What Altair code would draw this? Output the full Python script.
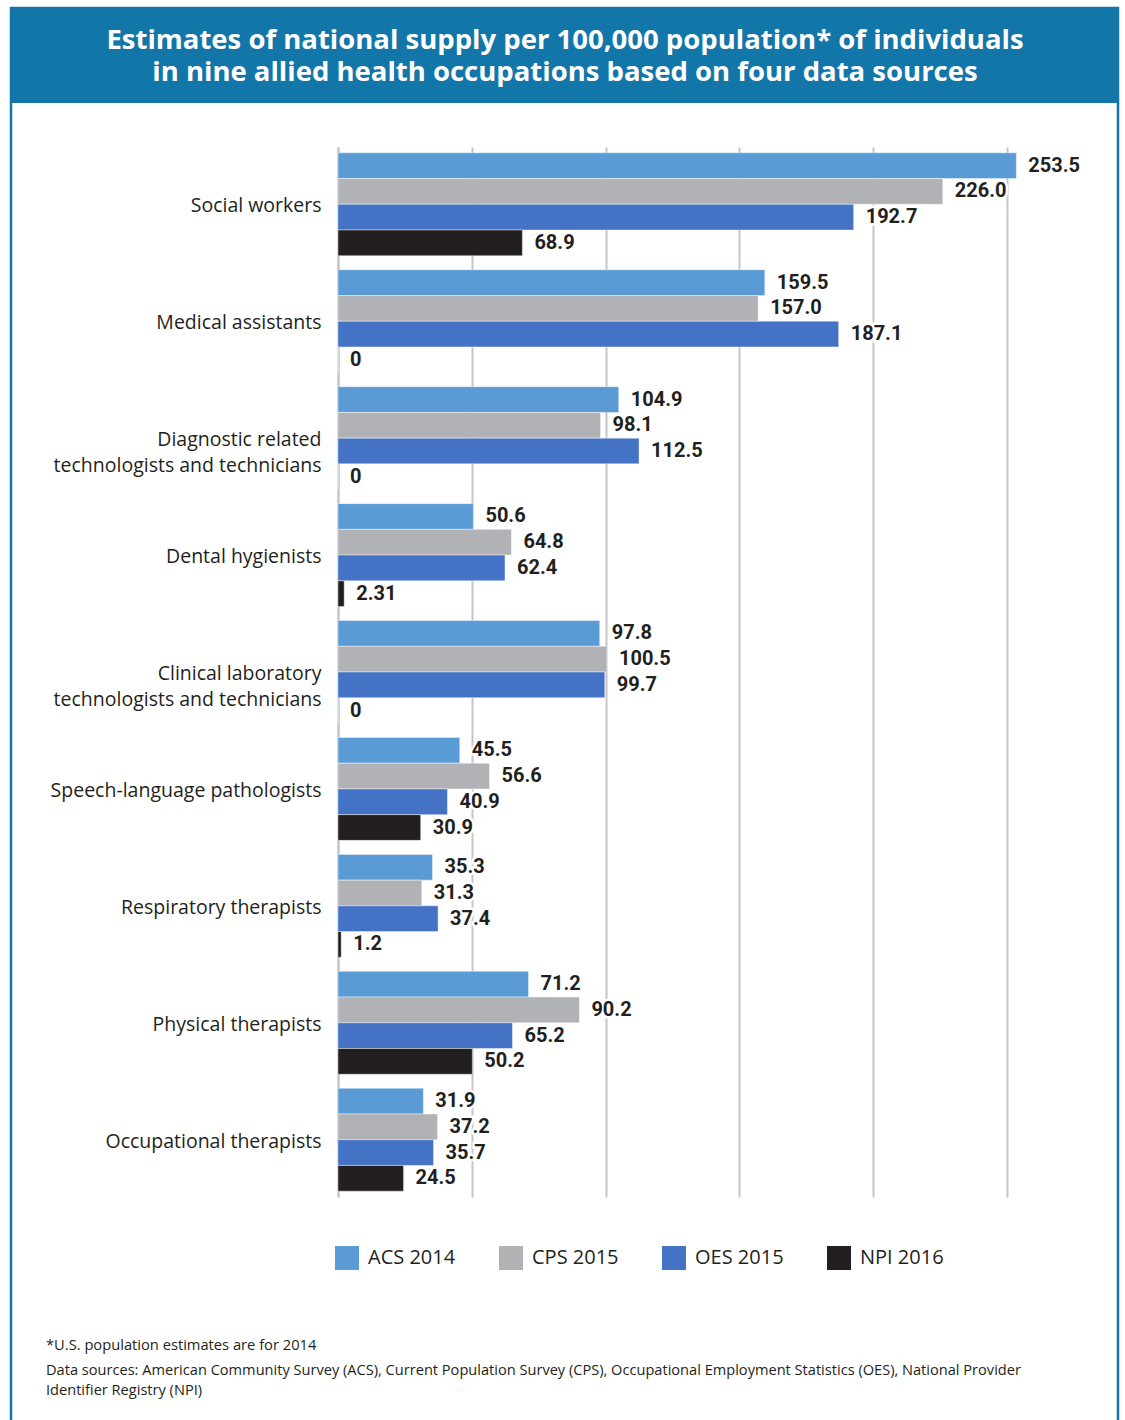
import altair as alt
import pandas as pd

occupations = [
    "Social workers",
    "Medical assistants",
    "Diagnostic related\ntechnologists and technicians",
    "Dental hygienists",
    "Clinical laboratory\ntechnologists and technicians",
    "Speech-language pathologists",
    "Respiratory therapists",
    "Physical therapists",
    "Occupational therapists",
]
series = ["ACS 2014", "CPS 2015", "OES 2015", "NPI 2016"]
colors = ["#5b9bd5", "#b1b2b6", "#4472c4", "#231f20"]

acs_2014 = [253.5, 159.5, 104.9, 50.6, 97.8, 45.5, 35.3, 71.2, 31.9]
cps_2015 = [226.0, 157.0, 98.1, 64.8, 100.5, 56.6, 31.3, 90.2, 37.2]
oes_2015 = [192.7, 187.1, 112.5, 62.4, 99.7, 40.9, 37.4, 65.2, 35.7]
npi_2016 = [68.9, 0, 0, 2.31, 0, 30.9, 1.2, 50.2, 24.5]

title_lines = [
    "Estimates of national supply per 100,000 population* of individuals",
    "in nine allied health occupations based on four data sources",
]
footnote = "*U.S. population estimates are for 2014"
sources_lines = [
    "Data sources: American Community Survey (ACS), Current Population Survey (CPS), Occupational Employment Statistics (OES), National Provider",
    "Identifier Registry (NPI)",
]

rows = []
for s, vals in zip(series, [acs_2014, cps_2015, oes_2015, npi_2016]):
    for occ, v in zip(occupations, vals):
        rows.append({"occ": occ, "series": s, "value": float(v), "label": str(v)})
df = pd.DataFrame(rows)

W, H = 669, 1050
PAD_L, PAD_T = 338, 147
BLUE = "#1276a9"
TEXT = "#231f20"

y_enc = alt.Y(
    "occ:N",
    sort=occupations,
    scale=alt.Scale(paddingInner=0.12, paddingOuter=0.05),
    axis=alt.Axis(
        title=None,
        ticks=False,
        domain=True,
        domainColor="#c4c5c8",
        domainWidth=2,
        labelPadding=17,
        labelFont="Open Sans",
        labelFontSize=19.5,
        labelColor=TEXT,
        labelLineHeight=26,
        labelLimit=400,
        labelOffset=2,
        labelExpr="split(datum.label, '\\n')",
    ),
)
yoff_enc = alt.YOffset("series:N", sort=series, scale=alt.Scale(paddingInner=0, paddingOuter=0))
x_enc = alt.X(
    "value:Q",
    scale=alt.Scale(domain=[0, 250], nice=False, zero=True),
    axis=alt.Axis(
        title=None,
        labels=False,
        ticks=False,
        domain=False,
        grid=True,
        gridColor="#c4c5c8",
        gridWidth=2,
        values=[0, 50, 100, 150, 200, 250],
    ),
)

one = pd.DataFrame({"k": [0]})

frame = alt.Chart(one).mark_rect(fill="transparent", stroke=BLUE, strokeWidth=2.5).encode(
    x=alt.value(11 - PAD_L), x2=alt.value(1118 - PAD_L),
    y=alt.value(8 - PAD_T), y2=alt.value(1440 - PAD_T),
)
banner = alt.Chart(one).mark_rect(fill=BLUE).encode(
    x=alt.value(10 - PAD_L), x2=alt.value(1119 - PAD_L),
    y=alt.value(8 - PAD_T), y2=alt.value(103 - PAD_T),
)
title = alt.Chart(one).mark_text(
    align="center", baseline="middle", font="Open Sans", fontSize=27.5, fontWeight="bold",
    color="white", lineHeight=32,
).encode(x=alt.value(565 - PAD_L), y=alt.value(41 - PAD_T), text=alt.value(title_lines))

bars = alt.Chart(df).mark_bar(stroke="#ffffff", strokeWidth=0.6, strokeOpacity=0.7).encode(
    y=y_enc,
    yOffset=yoff_enc,
    x=x_enc,
    color=alt.Color(
        "series:N",
        sort=series,
        scale=alt.Scale(domain=series, range=colors),
        legend=alt.Legend(
            title=None,
            orient="none",
            legendX=-3,
            legendY=1099,
            direction="horizontal",
            symbolType="square",
            symbolSize=576,
            symbolStrokeWidth=0,
            labelFont="Open Sans",
            labelFontSize=20,
            labelColor=TEXT,
            labelOffset=9,
            columnPadding=43,
        ),
    ),
)

halo = alt.Chart(df).mark_text(
    align="left", baseline="middle", dx=12, font="Roboto", fontSize=20, fontWeight="bold",
    stroke="white", strokeWidth=5, fill="white",
).encode(y=alt.Y("occ:N", sort=occupations), yOffset=alt.YOffset("series:N", sort=series), x="value:Q", text="label:N")

labels = alt.Chart(df).mark_text(
    align="left", baseline="middle", dx=12, font="Roboto", fontSize=20, fontWeight="bold", color=TEXT,
).encode(y=alt.Y("occ:N", sort=occupations), yOffset=alt.YOffset("series:N", sort=series), x="value:Q", text="label:N")

foot1 = alt.Chart(pd.DataFrame({"t": [footnote]})).mark_text(
    align="left", baseline="middle", font="Open Sans", fontSize=14.7, color=TEXT,
).encode(x=alt.value(46 - PAD_L), y=alt.value(1346 - PAD_T), text="t:N")

foot2 = alt.Chart(one).mark_text(
    align="left", baseline="middle", font="Open Sans", fontSize=14.6, color=TEXT, lineHeight=20,
).encode(x=alt.value(46 - PAD_L), y=alt.value(1371 - PAD_T), text=alt.value(sources_lines))

chart = alt.layer(frame, banner, title, bars, halo, labels, foot1, foot2).properties(
    width=W,
    height=H,
    autosize=alt.AutoSizeParams(type="none"),
    padding={"left": PAD_L, "top": PAD_T, "right": 1125 - PAD_L - W, "bottom": 1420 - PAD_T - H},
    background="white",
).configure_view(stroke="transparent")

chart.save("out.html", embed_options={"renderer": "svg", "actions": False})
